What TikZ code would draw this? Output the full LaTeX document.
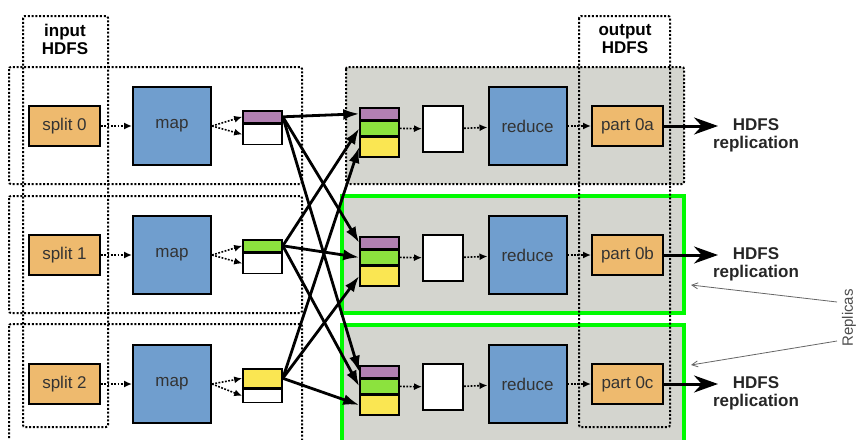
\documentclass[tikz,border=0pt]{standalone}
\usepackage{fontspec}
\setmainfont{Liberation Sans}
\usepackage{xcolor}
\usepackage{tikz}
\usetikzlibrary{arrows.meta,positioning}

\definecolor{splitorange}{RGB}{238,186,110}
\definecolor{mapblue}{RGB}{112,158,206}
\definecolor{redgray}{RGB}{212,213,207}
\definecolor{segpurple}{RGB}{178,128,178}
\definecolor{seggreen}{RGB}{140,226,62}
\definecolor{segyellow}{RGB}{250,230,82}
\definecolor{replgreen}{RGB}{0,250,0}

\begin{document}
\begin{tikzpicture}[
  x=1pt, y=-1pt,
  font=\fontsize{17}{18}\selectfont,
  box/.style={draw, line width=2pt, inner sep=0pt, text=black!80},
  splitbox/.style={box, fill=splitorange, minimum width=71pt, minimum height=40pt},
  mapbox/.style={box, fill=mapblue, minimum width=78pt, minimum height=78pt},
  sortbox/.style={box, fill=white, minimum width=40pt, minimum height=46pt},
  seg/.style={draw, line width=1.6pt, inner sep=0pt, minimum width=39pt},
  frame/.style={dash pattern=on 2pt off 1.8pt, line width=2pt, rounded corners=2pt},
  dotarr/.style={dash pattern=on 1.8pt off 1.5pt, line width=1.6pt, -{Latex[length=8pt,width=7pt]}},
  shufarr/.style={line width=2.8pt, -{Latex[length=16pt,width=11pt]}},
  hdfsarr/.style={line width=3pt, -{Stealth[length=24pt,width=17pt]}},
  lbl/.style={font=\fontsize{17}{18}\selectfont\bfseries, align=center, inner sep=0pt}
]
  \useasboundingbox (0,0) rectangle (859,439);

  % reduce side backgrounds
  \fill[redgray] (346,67) rectangle (684,184);
  \draw[frame] (346,67) rectangle (684,184);
  \draw[fill=redgray, draw=replgreen, line width=4.5pt] (342,196) rectangle (684,313);
  \draw[fill=redgray, draw=replgreen, line width=4.5pt] (342,325) rectangle (684,460);

  % dotted frames
  \draw[frame] (9,67) rectangle (302,184);
  \draw[frame] (9,196) rectangle (302,313);
  \draw[frame] (9,324) rectangle (302,460);
  \draw[frame] (23,16) rectangle (108,427);
  \draw[frame] (579,16) rectangle (670,427);
  \node[lbl] (inlbl) at (65,39) {input\\HDFS};
  \node[lbl] (outlbl) at (625,39) {output\\HDFS};

  \foreach \r/\col/\ha/\hb/\p in {0/segpurple/12/20/0a, 1/seggreen/12/20/0b, 2/segyellow/19/13/0c} {
    \pgfmathsetmacro{\c}{126+129*\r}
    % map side
    \node[splitbox] (split\r) at (64.5,\c) {split \r};
    \node[mapbox] (map\r) at (172,\c) {map};
    \node[seg, fill=\col, minimum height=\ha pt, anchor=north] (bufc\r) at (262.5,\c-16) {};
    \node[seg, fill=white, minimum height=\hb pt, anchor=north] (bufw\r) at (bufc\r.south) {};
    \draw[dotarr] (split\r) -- (map\r);
    \draw[dotarr] (map\r.east) -- (bufc\r.west);
    \draw[dotarr] (map\r.east) -- (bufw\r.west);
    % reduce side
    \node[seg, fill=segpurple, minimum height=12pt, anchor=north] (rp\r) at (379.5,\c-19) {};
    \node[seg, fill=seggreen, minimum height=14pt, anchor=north] (rg\r) at (rp\r.south) {};
    \node[seg, fill=segyellow, minimum height=20pt, anchor=north] (ry\r) at (rg\r.south) {};
    \node[sortbox] (sort\r) at (443,\c+3) {};
    \node[mapbox] (red\r) at (527.5,\c) {reduce};
    \node[splitbox] (part\r) at (627.5,\c) {part \p};
    \coordinate (tip\r) at (718,\c);
    \node[lbl, text=black!85] (hdfs\r) at (756,\c+9) {HDFS\\replication};
    \draw[dotarr] (rg\r.east) -- (sort\r);
    \draw[dotarr] (sort\r) -- (red\r);
    \draw[dotarr] (red\r) -- (part\r);
    \draw[hdfsarr] (part\r.east) -- (tip\r);
  }

  % shuffle
  \foreach \s/\t in {0/rp, 1/rg, 2/ry}
    \foreach \d in {0,1,2}
      \draw[shufarr] (bufc\s.east) -- (\t\d.west);

  % replicas note
  \node[rotate=90, text=black!70, font=\fontsize{15}{16}\selectfont] (repl) at (849,318) {Replicas};
  \coordinate (rb) at (691,285);
  \coordinate (rc) at (691,365);
  \draw[black!60, line width=0.8pt, -{Straight Barb[length=6pt,width=6pt]}] (837,302) -- (rb);
  \draw[black!60, line width=0.8pt, -{Straight Barb[length=6pt,width=6pt]}] (837,341) -- (rc);
\end{tikzpicture}
\end{document}
